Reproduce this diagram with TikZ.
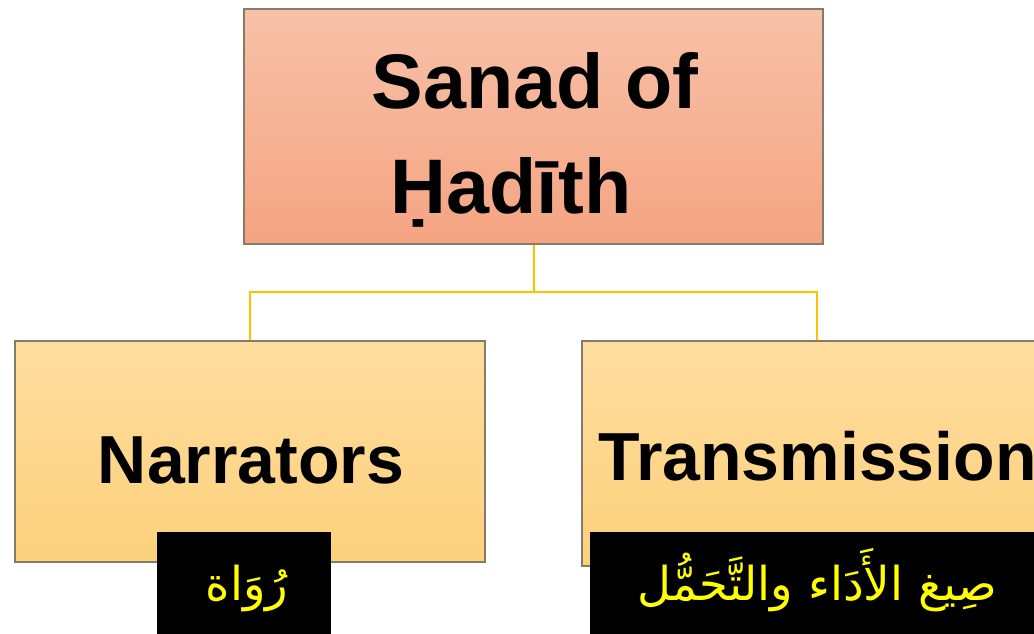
\documentclass[tikz,border=0pt]{standalone}
\usepackage{fontspec}
\setmainfont{Liberation Sans}
\newfontfamily\arabicfont[Script=Arabic]{DejaVu Sans}
\TeXXeTstate=1
\definecolor{topA}{HTML}{F7C1A8}
\definecolor{topB}{HTML}{F5A482}
\definecolor{boxA}{HTML}{FEDD9F}
\definecolor{boxB}{HTML}{FDD17C}
\definecolor{edge}{HTML}{857B6A}
\definecolor{link}{HTML}{FFC000}
\definecolor{arabyellow}{HTML}{FFFF00}
\begin{document}
\begin{tikzpicture}[x=0.75pt,y=-0.75pt,
  mainbox/.style={draw=edge, line width=0.8pt, inner sep=0pt, top color=topA, bottom color=topB},
  subbox/.style={draw=edge, line width=0.8pt, inner sep=0pt, top color=boxA, bottom color=boxB},
  blackbox/.style={fill=black, draw=none, inner sep=0pt},
  titletext/.style={font=\fontsize{58}{79}\selectfont\bfseries, align=center, inner sep=0pt},
  subtext/.style={font=\fontsize{51}{60}\selectfont\bfseries, inner sep=0pt},
  arabtext/.style={font=\fontsize{35}{40}\arabicfont, text=arabyellow, inner sep=0pt},
  conn/.style={draw=link, line width=1.5pt}]
\path[use as bounding box, clip] (0,0) rectangle (1034,633);
\fill[white] (0,0) rectangle (1034,633);
% boxes
\node[mainbox, minimum width=579*0.75pt, minimum height=235*0.75pt] (top) at (533.5,126.5) {};
\node[subbox, minimum width=470*0.75pt, minimum height=221*0.75pt] (left) at (250,451.5) {};
\node[subbox, minimum width=470*0.75pt, minimum height=225*0.75pt] (right) at (817,453.5) {};
% connectors
\coordinate (fork) at (533.5,292);
\draw[conn] (top.south) -- (fork);
\draw[conn] (fork) -| (left.north);
\draw[conn] (fork) -| (right.north);
% texts
\node[titletext, anchor=base] (t1) at (535,108) {Sanad of};
\node[titletext, anchor=base] (t2) at (511,213) {Ḥadīth};
\node[subtext, anchor=base] (n1) at (251,483) {Narrators};
\node[subtext, anchor=base west] (n2) at (598,480) {Transmission};
% black label boxes
\node[blackbox, minimum width=174*0.75pt, minimum height=110*0.75pt] (lb) at (244,587) {};
\node[blackbox, minimum width=454*0.75pt, minimum height=110*0.75pt] (rb) at (817,587) {};
\node[arabtext, anchor=base] (a1) at (247,600) {\beginR رُوَاة\endR};
\node[arabtext, anchor=base] (a2) at (817,600) {\beginR صِيغ الأَدَاء والتَّحَمُّل\endR};
\end{tikzpicture}
\end{document}
